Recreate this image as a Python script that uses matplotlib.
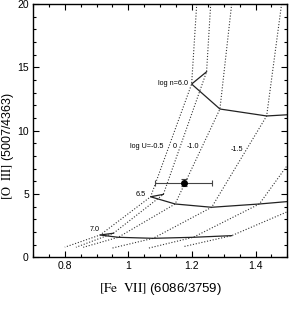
import matplotlib
matplotlib.use("Agg")
import matplotlib.pyplot as plt
import numpy as np

plt.rcParams["font.family"] = ["Liberation Sans", "DejaVu Sans"]
plt.rcParams["mathtext.fontset"] = "stix"

# model tracks, ordered by log U = 0, -0.5, -1.0, -1.5, -2.0, -2.5
log_u = ["0", "-0.5", "-1.0", "-1.5", "-2.0", "-2.5"]
x_top = [1.259, 1.215, 1.325, 1.482, np.nan, np.nan]
y_top = [20.0, 20.0, 20.0, 20.0, np.nan, np.nan]
x_n60 = [1.246, 1.199, 1.288, 1.435, 1.620, np.nan]
y_n60 = [14.65, 13.68, 11.71, 11.16, 11.43, np.nan]
x_n65 = [1.110, 1.070, 1.147, 1.262, 1.412, 1.593]
y_n65 = [4.97, 4.78, 4.21, 3.95, 4.21, 4.60]
x_n70 = [0.953, 0.911, 0.968, 1.078, 1.204, 1.325]
y_n70 = [1.90, 1.76, 1.58, 1.50, 1.58, 1.71]
x_end = [0.835, 0.800, 0.858, 0.948, 1.063, 1.173]
y_end = [0.79, 0.80, 0.79, 0.72, 0.72, 0.84]

# observed ratio
obs_x, obs_y = 1.174, 5.89
obs_xerr, obs_yerr = 0.089, 0.28

x_ticks = [0.8, 1.0, 1.2, 1.4]
x_tick_labels = ["0.8", "1", "1.2", "1.4"]
y_ticks = [0, 5, 10, 15, 20]

fig = plt.figure(figsize=(3.04, 3.09), dpi=100)
ax = fig.add_axes([0.1086, 0.1673, 0.8365, 0.8197])

# constant-U tracks (dotted)
for i in range(len(log_u)):
    xs = [x_top[i], x_n60[i], x_n65[i], x_n70[i], x_end[i]]
    ys = [y_top[i], y_n60[i], y_n65[i], y_n70[i], y_end[i]]
    ax.plot(xs, ys, color="#333333", linestyle=(0, (1, 1.6)), linewidth=0.8)

# constant-density lines (solid)
for xs, ys in [(x_n60, y_n60), (x_n65, y_n65), (x_n70, y_n70)]:
    ax.plot(xs, ys, color="#222222", linewidth=0.9)

ax.errorbar(obs_x, obs_y, xerr=obs_xerr, yerr=obs_yerr, fmt="o", color="black",
            ecolor="#444444", markersize=4, elinewidth=0.8, capsize=2, capthick=0.8)

fs = 5.2
ax.text(1.188, 13.76, "log n=6.0", fontsize=fs, ha="right", va="center")
ax.text(1.040, 4.97, "6.5", fontsize=fs, ha="center", va="center")
ax.text(0.893, 2.16, "7.0", fontsize=fs, ha="center", va="center")
ax.text(1.109, 8.73, "log U=-0.5", fontsize=fs, ha="right", va="center")
ax.text(1.147, 8.73, "0", fontsize=fs, ha="center", va="center")
ax.text(1.204, 8.73, "-1.0", fontsize=fs, ha="center", va="center")
ax.text(1.343, 8.53, "-1.5", fontsize=fs, ha="center", va="center")

ax.set_xlim(0.7, 1.5)
ax.set_ylim(0, 20)
ax.set_xticks(x_ticks)
ax.set_xticklabels(x_tick_labels)
ax.set_yticks(y_ticks)
ax.xaxis.set_minor_locator(matplotlib.ticker.MultipleLocator(0.05))
ax.yaxis.set_minor_locator(matplotlib.ticker.MultipleLocator(1))
ax.tick_params(which="both", direction="in", top=True, right=True, labelsize=7.5, width=0.8)
ax.tick_params(which="major", length=4, pad=3)
ax.tick_params(which="minor", length=2)
for s in ax.spines.values():
    s.set_linewidth(1.0)

ax.set_xlabel(r"$\mathrm{[Fe\ \ VII]}$ (6086/3759)", fontsize=9.5)
ax.set_ylabel(r"$\mathrm{[O\ \ III]}$ (5007/4363)", fontsize=9)
ax.xaxis.set_label_coords(0.5, -0.095)
ax.yaxis.set_label_coords(-0.068, 0.44)

fig.savefig("out.png", dpi=100)
